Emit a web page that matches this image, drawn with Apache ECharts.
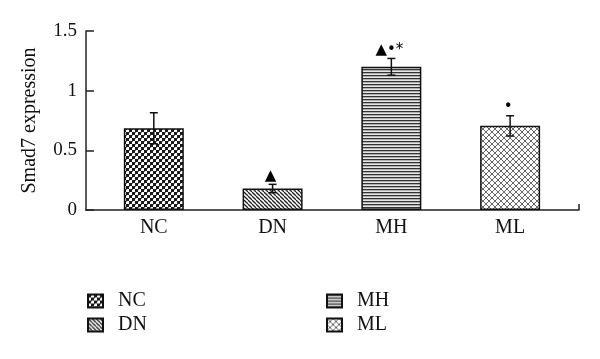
<!DOCTYPE html>
<html>
<head>
<meta charset="utf-8">
<script src="https://cdn.jsdelivr.net/npm/echarts@6/dist/echarts.min.js"></script>
<style>html,body{margin:0;padding:0;background:#fff}#c{width:600px;height:359px}</style>
</head>
<body>
<div id="c"></div>
<script>
// ---- data ----
const categories = ['NC', 'DN', 'MH', 'ML'];
const values = [0.685, 0.18, 1.2, 0.705];
const errors = [0.13, 0.035, 0.07, 0.085];
const annotations = ['', '\u25B2', '\u25B2\u2022*', '\u2022'];
const yTicks = [0, 0.5, 1, 1.5];

// ---- patterns ----
function tile(size, draw) {
  const c = document.createElement('canvas');
  c.width = size; c.height = size;
  const ctx = c.getContext('2d');
  ctx.fillStyle = '#fff'; ctx.fillRect(0, 0, size, size);
  draw(ctx, size);
  return { image: c, repeat: 'repeat' };
}
const patterns = [
  tile(6, (ctx) => { ctx.fillStyle = '#1a1a1a'; ctx.fillRect(0, 0, 3, 3); ctx.fillRect(3, 3, 3, 3); ctx.fillStyle = '#777'; ctx.fillRect(3, 0, 1, 1); ctx.fillRect(0, 3, 1, 1); }),
  tile(4, (ctx) => {
    ctx.strokeStyle = '#222'; ctx.lineWidth = 1.3;
    for (let k = -1; k <= 1; k++) { ctx.beginPath(); ctx.moveTo(k * 4, 0); ctx.lineTo(k * 4 + 4, 4); ctx.stroke(); }
  }),
  tile(3, (ctx) => { ctx.fillStyle = '#e6e6e6'; ctx.fillRect(0, 0, 3, 3); ctx.fillStyle = '#333'; ctx.fillRect(0, 0, 3, 1.3); }),
  tile(6, (ctx) => {
    ctx.strokeStyle = '#666'; ctx.lineWidth = 1;
    for (let k = -1; k <= 1; k++) {
      ctx.beginPath(); ctx.moveTo(k * 6, 0); ctx.lineTo(k * 6 + 6, 6); ctx.stroke();
      ctx.beginPath(); ctx.moveTo(k * 6 + 6, 0); ctx.lineTo(k * 6, 6); ctx.stroke();
    }
  })
];

const font = '"Liberation Serif", "DejaVu Serif", serif';
const chart = echarts.init(document.getElementById('c'), null, { renderer: 'canvas' });

const barSeries = categories.map((name, i) => ({
  name: name,
  type: 'bar',
  barWidth: 60,
  barGap: '-100%',
  data: [[i, values[i]]],
  itemStyle: { color: patterns[i], borderColor: '#111', borderWidth: 1.5 },
  emphasis: { disabled: true },
  z: 2
}));

const errData = categories.map((c, i) => [i, values[i], errors[i]]);

const errSeries = {
  type: 'custom',
  name: 'err',
  data: errData,
  z: 5,
  renderItem: function (params, api) {
    const x = api.value(0), v = api.value(1), e = api.value(2);
    const top = api.coord([x, v + e]);
    const bot = api.coord([x, v - e]);
    const cap = 4;
    const st = { stroke: '#111', lineWidth: 1.5 };
    return {
      type: 'group',
      children: [
        { type: 'line', shape: { x1: top[0], y1: top[1], x2: bot[0], y2: bot[1] }, style: st },
        { type: 'line', shape: { x1: top[0] - cap, y1: top[1], x2: top[0] + cap, y2: top[1] }, style: st },
        { type: 'line', shape: { x1: bot[0] - cap, y1: bot[1], x2: bot[0] + cap, y2: bot[1] }, style: st }
      ]
    };
  }
};

const annSeries = {
  type: 'custom',
  name: 'ann',
  data: errData,
  z: 6,
  renderItem: function (params, api) {
    const x = api.value(0), v = api.value(1), e = api.value(2);
    const txt = annotations[params.dataIndex];
    const p = api.coord([x, v + e]);
    return {
      type: 'text',
      style: {
        x: p[0] - 2, y: p[1] - 1,
        text: txt,
        fill: '#000',
        font: '15px "DejaVu Sans", sans-serif',
        align: 'center',
        verticalAlign: 'bottom'
      }
    };
  }
};

const legendCommon = {
  orient: 'vertical',
  itemWidth: 15,
  itemHeight: 13,
  itemGap: 4,
  icon: 'rect',
  selectedMode: false,
  textStyle: { fontFamily: font, fontSize: 20, color: '#111', lineHeight: 20, padding: [0, 0, 0, 10] }
};

chart.setOption({
  animation: false,
  backgroundColor: '#fff',
  grid: { left: 86, right: 21, top: 31, bottom: 149, containLabel: false },
  legend: [
    Object.assign({ data: ['NC', 'DN'], left: 82, top: 286 }, legendCommon),
    Object.assign({ data: ['MH', 'ML'], left: 321, top: 286 }, legendCommon)
  ],
  xAxis: {
    type: 'value',
    min: -0.571,
    max: 3.58,
    splitLine: { show: false },
    axisLine: { onZero: false, lineStyle: { color: '#222', width: 1.5 } },
    axisTick: { show: true, inside: true, length: 6, customValues: [3.58], lineStyle: { color: '#222', width: 1.5 } },
    axisLabel: {
      customValues: [0, 1, 2, 3],
      formatter: (v) => categories[Math.round(v)],
      fontFamily: font, fontSize: 20, color: '#111', margin: 8
    }
  },
  yAxis: {
    type: 'value',
    min: 0, max: 1.5, interval: 0.5,
    name: 'Smad7 expression',
    nameLocation: 'middle',
    nameGap: 46,
    nameTextStyle: { fontFamily: font, fontSize: 20, color: '#111' },
    splitLine: { show: false },
    axisLine: { show: true, onZero: false, lineStyle: { color: '#222', width: 1.5 } },
    axisTick: { show: true, inside: true, length: 8, lineStyle: { color: '#222', width: 1.5 } },
    axisLabel: {
      customValues: yTicks,
      fontFamily: font, fontSize: 19, color: '#111', margin: 9,
      formatter: (v) => String(v)
    }
  },
  series: barSeries.concat([errSeries, annSeries])
});
</script>
</body>
</html>
